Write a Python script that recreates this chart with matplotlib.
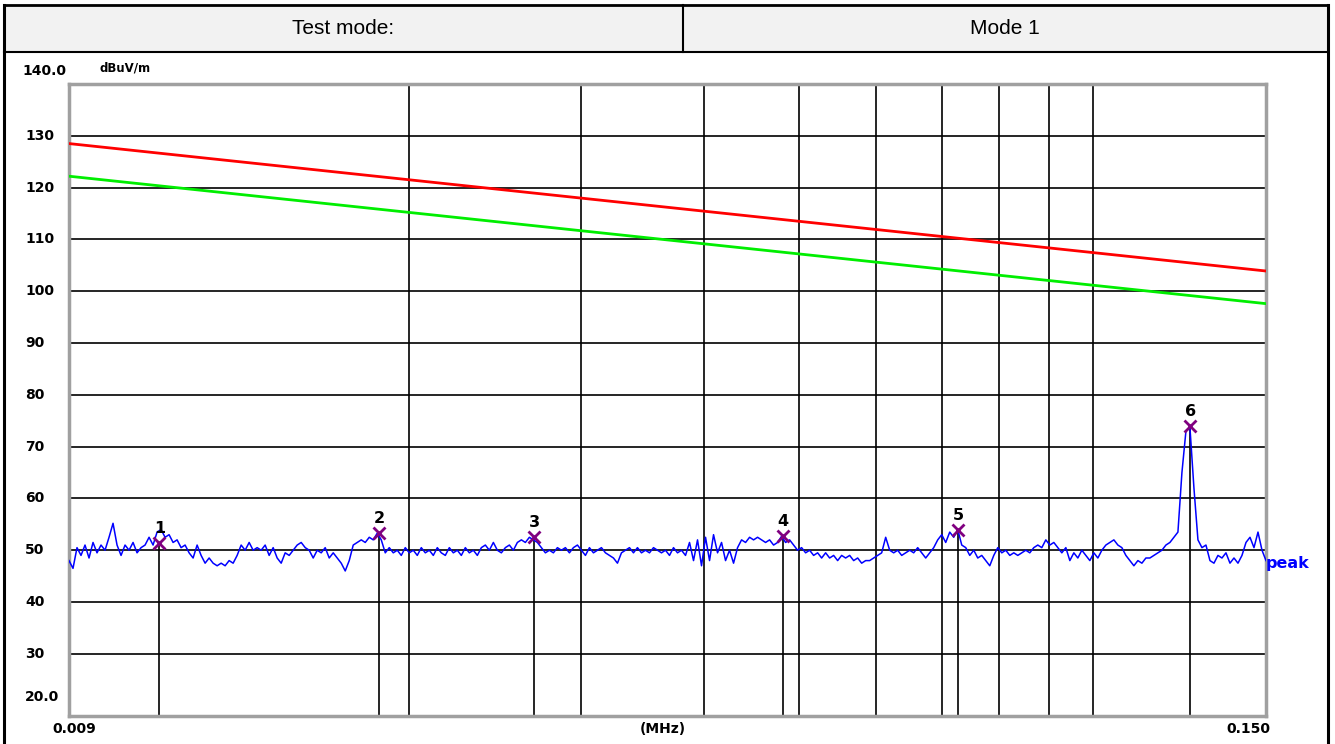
import matplotlib
matplotlib.use('Agg')
import matplotlib.pyplot as plt
import numpy as np
from matplotlib.patches import Rectangle
from matplotlib.lines import Line2D
from matplotlib.ticker import NullLocator

# ---------------- data ----------------
header_left = "Test mode:"
header_right = "Mode 1"
y_unit = "dBuV/m"
x_unit = "(MHz)"
x_min, x_max = 0.009, 0.150
y_top_label, y_bottom_label = "140.0", "20.0"
x_left_label, x_right_label = "0.009", "0.150"
y_ticks = [130, 120, 110, 100, 90, 80, 70, 60, 50, 40, 30]
grid_freq = [0.02, 0.03, 0.04, 0.05, 0.06, 0.07, 0.08, 0.09, 0.10]

limit_freq = [0.009, 0.150]
limit_level = [128.5, 103.9]     # red limit line
margin_level = [122.2, 97.6]     # green line

marker_freq = [0.01113, 0.01865, 0.02685, 0.04817, 0.07272, 0.1255]
marker_level = [51.4, 53.3, 52.5, 52.7, 54.0, 74.0]
marker_names = ["1", "2", "3", "4", "5", "6"]

trace_level = [
    48, 46.5, 50.5, 49, 51, 48.5, 51.5, 49.5, 51, 50, 52.5, 55.2, 51, 49, 51, 50, 51.5, 49.5, 50.5, 51,
    52.5, 51, 53.5, 54, 52.5, 53, 51.5, 52, 50.5, 51, 49.5, 48.5, 51, 49, 47.5, 48.5, 47.5, 47, 47.5, 47,
    48, 47.5, 49, 51, 50, 51.5, 50, 50.5, 50, 51, 49, 50.5, 48.5, 47.5, 49.5, 49, 50, 51, 51.5, 50.5,
    50, 48.5, 50, 49.5, 50.5, 48.5, 49.5, 48.5, 47.5, 46, 48, 51, 51.5, 52, 51.5, 52.5, 52, 53.3, 52, 49.5,
    50.5, 49.5, 50, 49, 50.5, 49.5, 50, 49, 50.5, 49.5, 50, 49, 50.5, 49.5, 49, 50.5, 49.5, 50, 49, 50.5,
    49.5, 50, 49, 50.5, 51, 50, 51.5, 50, 49.5, 50.5, 51, 50, 51.5, 52, 51.5, 52.5, 52, 51.5, 50.5, 49.5,
    50, 49.5, 50.5, 50, 50.5, 49.5, 50.5, 51, 50, 49, 50.5, 49.5, 50, 50.5, 49.5, 49, 48.5, 47.5, 49.5, 50,
    50.5, 49.5, 50.5, 49.5, 50, 49.5, 50.5, 50, 49.5, 50, 49, 50.5, 49.5, 50, 49, 51.5, 48, 52, 47, 52.5,
    48, 53, 49.5, 51.5, 48, 50, 47.5, 50.5, 52, 51.5, 52.5, 52, 52.5, 52, 51.5, 52, 51, 51.5, 52.7, 51.5,
    52, 51, 50, 50.5, 49.5, 50, 49, 49.5, 48.5, 49.5, 48.5, 49, 48, 49, 48.5, 49, 48, 48.5, 47.5, 48,
    48, 48.5, 49, 49.5, 52.5, 50, 49.5, 50, 49, 49.5, 50, 49.5, 50.5, 49.5, 48.5, 49.5, 50.5, 52, 53, 51.5,
    53.5, 52.5, 54, 51, 50.5, 49, 50, 48.5, 49, 48, 47, 49, 50.5, 49.5, 50, 49, 49.5, 49, 49.5, 50,
    49.5, 50.5, 51, 50.5, 52, 51, 51.5, 50.5, 49.5, 50.5, 48, 49.5, 48.5, 50, 49, 48, 49.5, 48.5, 50, 51,
    51.5, 52, 51, 50.5, 49, 48, 47, 48, 47.5, 48.5, 48.5, 49, 49.5, 50, 51, 51.5, 52.5, 53.5, 65, 73,
    73.7, 62, 52, 50.5, 51, 48, 47.5, 49, 48.5, 49.5, 47.5, 48.5, 47.5, 49, 51.5, 52.5, 50.5, 53.5, 50, 48,
]
trace_freq = np.geomspace(x_min, x_max, len(trace_level))

# ---------------- figure ----------------
W, H = 1335, 744
fig = plt.figure(figsize=(W / 100, H / 100), dpi=100)
fig.patch.set_facecolor('white')


def fx(px):
    return px / W


def fy(py):
    return 1 - py / H


# header row
fig.add_artist(Rectangle((fx(4), fy(52)), fx(1328) - fx(4), fy(5) - fy(52),
                         transform=fig.transFigure, facecolor='#F2F2F2', edgecolor='none', zorder=0))
for (x0, y0, x1, y1, lw) in [(4, 5, 1328, 5, 2), (4, 52, 1328, 52, 1.5), (683, 5, 683, 52, 1.5),
                             (4, 5, 4, 744, 2.2), (1328, 5, 1328, 744, 2.2)]:
    fig.add_artist(Line2D([fx(x0), fx(x1)], [fy(y0), fy(y1)], transform=fig.transFigure,
                          color='black', lw=lw))
fig.text(fx(343), fy(28), header_left, ha='center', va='center', fontsize=15, family='Liberation Sans')
fig.text(fx(1005), fy(28), header_right, ha='center', va='center', fontsize=15, family='Liberation Sans')

# plot area
y_lo, y_hi = 18.0, 140.0
ax = fig.add_axes([fx(69), fy(716), (1266 - 69) / W, (716 - 84) / H])
ax.set_xscale('log')
ax.set_xlim(x_min, x_max)
ax.set_ylim(y_lo, y_hi)
ax.xaxis.set_major_locator(NullLocator())
ax.xaxis.set_minor_locator(NullLocator())
ax.yaxis.set_major_locator(NullLocator())
ax.yaxis.set_minor_locator(NullLocator())
for sp in ax.spines.values():
    sp.set_color('#A0A0A0')
    sp.set_linewidth(2.5)

for v in grid_freq:
    ax.axvline(v, color='black', lw=1.2, zorder=1)
for h in y_ticks:
    ax.axhline(h, color='black', lw=1.2, zorder=1)

ax.vlines(marker_freq, y_lo, marker_level, color='black', lw=1.2, zorder=1)

ax.plot(limit_freq, limit_level, color='#FF0000', lw=2, zorder=3)
ax.plot(limit_freq, margin_level, color='#00EE00', lw=2, zorder=3)
ax.plot(trace_freq, trace_level, color='#0000FF', lw=1.1, zorder=4)
ax.plot(marker_freq, marker_level, 'x', color='#800080', ms=9, mew=2, zorder=5)
for f, lv, name in zip(marker_freq, marker_level, marker_names):
    ax.annotate(name, (f, lv), xytext=(0, 5), textcoords='offset points', ha='center', va='bottom',
                fontsize=11.5, fontweight='bold', family='DejaVu Sans', zorder=6)

ax.text(1.0, trace_level[-1] - 0.5, "peak", transform=ax.get_yaxis_transform(), ha='left', va='center',
        color='#0000FF', fontsize=11.5, fontweight='bold', clip_on=False)

# y labels
ylab_x = (25 - 69) / (1266 - 69)
for h in y_ticks:
    ax.text(ylab_x, h, str(h), transform=ax.get_yaxis_transform(), ha='left', va='center',
            fontsize=10, fontweight='bold', clip_on=False)
fig.text(fx(22), fy(71), y_top_label, ha='left', va='center', fontsize=10, fontweight='bold')
fig.text(fx(100), fy(68), y_unit, ha='left', va='center', fontsize=8.5, fontweight='bold')
fig.text(fx(25), fy(697), y_bottom_label, ha='left', va='center', fontsize=10, fontweight='bold')

# x labels
fig.text(fx(52), fy(729), x_left_label, ha='left', va='center', fontsize=10, fontweight='bold')
fig.text(fx(663), fy(729), x_unit, ha='center', va='center', fontsize=10, fontweight='bold')
fig.text(fx(1270), fy(729), x_right_label, ha='right', va='center', fontsize=10, fontweight='bold')

fig.savefig('out.png', dpi=100, facecolor='white')
